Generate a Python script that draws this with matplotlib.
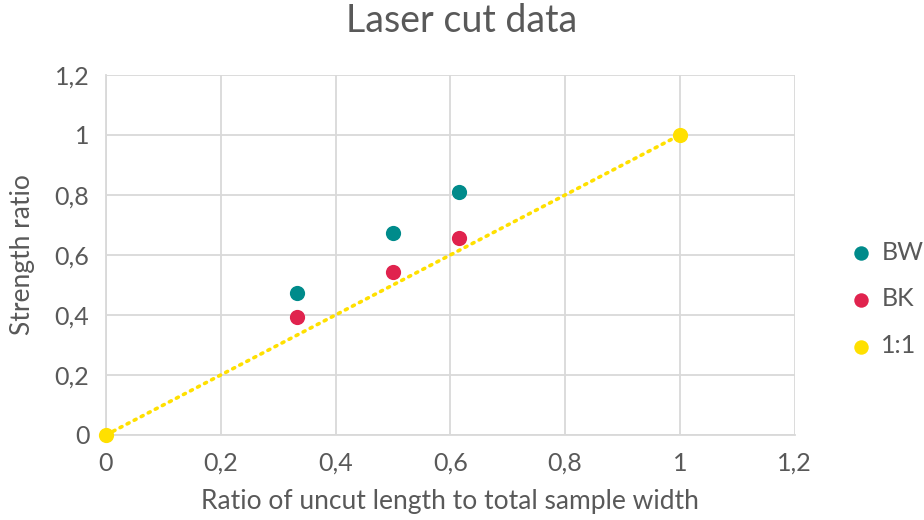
import matplotlib
matplotlib.use("Agg")
import matplotlib.pyplot as plt
from matplotlib.ticker import FuncFormatter, MultipleLocator

plt.rcParams['font.family'] = ['Lato', 'DejaVu Sans']

bw_x = [0.333, 0.5, 0.615]
bw_y = [0.472, 0.674, 0.81]
bk_x = [0.333, 0.5, 0.615]
bk_y = [0.393, 0.544, 0.658]
one_x = [0, 1]
one_y = [0, 1]

c_bw = '#008B8B'
c_bk = '#E0234E'
c_11 = '#FFE000'
txt = '#595959'

fig = plt.figure(figsize=(9.24, 5.20), dpi=100)
ax = fig.add_axes([0.1147, 0.1635, 0.860 - 0.1147, 0.8558 - 0.1635])

ax.plot(one_x, one_y, linestyle=(0, (0.6, 1.6)), color=c_11, linewidth=2.6,
        dash_capstyle='round', zorder=3)
ax.scatter(bw_x, bw_y, s=120, color=c_bw, zorder=4, label='BW', linewidths=0)
ax.scatter(bk_x, bk_y, s=120, color=c_bk, zorder=4, label='BK', linewidths=0)
ax.scatter(one_x, one_y, s=120, color=c_11, zorder=5, label='1:1', linewidths=0,
           clip_on=False)

ax.set_xlim(0, 1.2)
ax.set_ylim(0, 1.2)
ax.xaxis.set_major_locator(MultipleLocator(0.2))
ax.yaxis.set_major_locator(MultipleLocator(0.2))
fmt = FuncFormatter(lambda v, p: ('%g' % round(v, 2)).replace('.', ','))
ax.xaxis.set_major_formatter(fmt)
ax.yaxis.set_major_formatter(fmt)
ax.grid(True, color='#d9d9d9', linewidth=1.3)
ax.set_axisbelow(True)
for s in ax.spines.values():
    s.set_color('#d9d9d9')
    s.set_linewidth(1.3)
ax.spines['top'].set_visible(False)
ax.spines['right'].set_visible(False)
ax.tick_params(length=0, labelsize=18, colors=txt, pad=12)

ax.set_xlabel('Ratio of uncut length to total sample width', fontsize=19, color=txt, labelpad=10)
ax.set_ylabel('Strength ratio', fontsize=19, color=txt, labelpad=14)
fig.suptitle('Laser cut data', fontsize=27, color=txt, y=0.995)

leg = ax.legend(loc='center left', bbox_to_anchor=(1.0, 0.378), frameon=False,
                fontsize=18, handlelength=0.8, handletextpad=0.4,
                labelspacing=0.95, markerscale=0.95, borderaxespad=1.87)
for t in leg.get_texts():
    t.set_color(txt)

fig.savefig('out.png', dpi=100)
